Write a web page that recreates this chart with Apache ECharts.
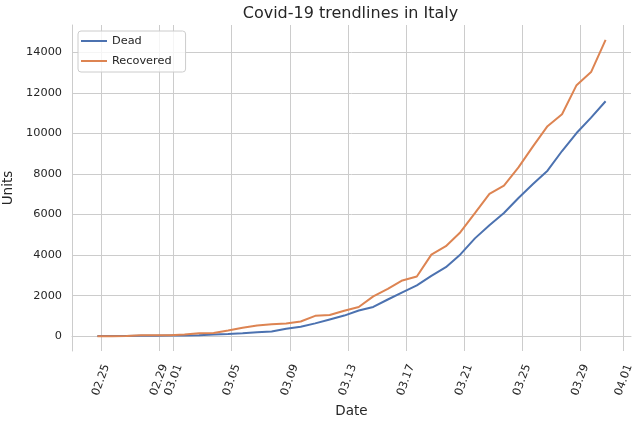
<!DOCTYPE html>
<html>
<head>
<meta charset="utf-8">
<script src="https://cdn.jsdelivr.net/npm/echarts@6/dist/echarts.min.js"></script>
<style>
  html, body { margin: 0; padding: 0; background: #fff; }
  #chart { width: 642px; height: 422px; }
</style>
</head>
<body>
<div id="chart"></div>
<script>
// daily totals, Italy 2020 (readings taken at 18:00)
const dates = ['02.24', '02.25', '02.26', '02.27', '02.28', '02.29',
    '03.01', '03.02', '03.03', '03.04', '03.05', '03.06', '03.07', '03.08', '03.09', '03.10',
    '03.11', '03.12', '03.13', '03.14', '03.15', '03.16', '03.17', '03.18', '03.19', '03.20',
    '03.21', '03.22', '03.23', '03.24', '03.25', '03.26', '03.27', '03.28', '03.29', '03.30'];
const dead = [7, 10, 12, 17, 21, 29,
    34, 52, 79, 107, 148, 197, 233, 366, 463, 631,
    827, 1016, 1266, 1441, 1809, 2158, 2503, 2978, 3405, 4032,
    4825, 5476, 6077, 6820, 7503, 8165, 9134, 10023, 10779, 11591];
const recovered = [1, 1, 3, 45, 46, 46,
    83, 149, 160, 276, 414, 523, 589, 622, 724, 1004,
    1045, 1258, 1439, 1966, 2335, 2749, 2941, 4025, 4440, 5129,
    6072, 7024, 7432, 8326, 9362, 10361, 10950, 12384, 13030, 14620];
const xTicks = ['02.25', '02.29', '03.01', '03.05', '03.09', '03.13', '03.17', '03.21', '03.25', '03.29', '04.01'];
const yTicks = [0, 2000, 4000, 6000, 8000, 10000, 12000, 14000];

// x axis counts days from 2020-02-23 00:00
const DAY = 86400000;
const origin = Date.UTC(2020, 1, 23);
const toDay = (s, hour) => {
    const [m, d] = s.split('.').map(Number);
    return (Date.UTC(2020, m - 1, d) - origin) / DAY + (hour || 0) / 24;
};
const pad = n => (n < 10 ? '0' : '') + n;
const fmt = v => {
    const d = new Date(origin + Math.round(v * 24) / 24 * DAY);
    return pad(d.getUTCMonth() + 1) + '.' + pad(d.getUTCDate());
};

const textColor = '#262626';
const gridColor = '#cccccc';
const font = 'DejaVu Sans';

const init = () => {
    const myChart = echarts.init(document.getElementById('chart'));
    const xTickDays = xTicks.map(s => toDay(s));
    let option = {
        animation: false,
        textStyle: { fontFamily: font },
        title: {
            text: 'Covid-19 trendlines in Italy',
            left: 345.5,
            top: 1,
            textAlign: 'center',
            textStyle: { fontFamily: font, fontSize: 16, fontWeight: 'normal', color: textColor }
        },
        legend: {
            orient: 'vertical',
            left: 78,
            top: 31,
            itemWidth: 26,
            itemHeight: 2,
            itemGap: 6,
            itemTextGap: 10,
            icon: 'rect',
            padding: [3, 14, 4, 3],
            backgroundColor: 'rgba(255,255,255,0.8)',
            borderColor: gridColor,
            borderWidth: 1,
            borderRadius: 3,
            textStyle: { fontFamily: font, fontSize: 11.3, color: textColor, lineHeight: 14 },
            data: ['Dead', 'Recovered']
        },
        grid: { left: 72, right: 11, top: 25, bottom: 71, outerBoundsMode: 'none', containLabel: false },
        xAxis: {
            type: 'value',
            min: 0,
            max: toDay('04.01', 12),
            name: 'Date',
            nameLocation: 'middle',
            nameGap: 44,
            nameTextStyle: { fontFamily: font, fontSize: 13.5, color: textColor },
            axisLine: { show: true, lineStyle: { color: gridColor, width: 1 } },
            axisTick: { show: false, customValues: xTickDays },
            splitLine: { show: true, lineStyle: { color: gridColor, width: 1 } },
            axisLabel: {
                customValues: xTickDays,
                formatter: fmt,
                rotate: 70,
                align: 'center',
                verticalAlign: 'middle',
                margin: 29,
                fontFamily: font,
                fontSize: 11.3,
                color: textColor
            }
        },
        yAxis: {
            type: 'value',
            min: -731,
            max: 15351,
            name: 'Units',
            nameLocation: 'middle',
            nameGap: 45,
            nameTextStyle: { fontFamily: font, fontSize: 13.5, color: textColor },
            axisLine: { show: true, lineStyle: { color: gridColor, width: 1 } },
            axisTick: { show: false, customValues: yTicks },
            splitLine: { show: true, lineStyle: { color: gridColor, width: 1 } },
            axisLabel: {
                customValues: yTicks,
                formatter: v => String(v),
                margin: 10,
                fontFamily: font,
                fontSize: 11.3,
                color: textColor
            }
        },
        series: [
            {
                name: 'Dead',
                type: 'line',
                showSymbol: false,
                color: '#4c72b0',
                lineStyle: { width: 2 },
                data: dates.map((d, i) => [toDay(d, 18), dead[i]])
            },
            {
                name: 'Recovered',
                type: 'line',
                showSymbol: false,
                color: '#dd8452',
                lineStyle: { width: 2 },
                data: dates.map((d, i) => [toDay(d, 18), recovered[i]])
            }
        ]
    };
    myChart.setOption(option);
    window.addEventListener('resize', () => {
        myChart.resize();
    });
};
init();
</script>
</body>
</html>
